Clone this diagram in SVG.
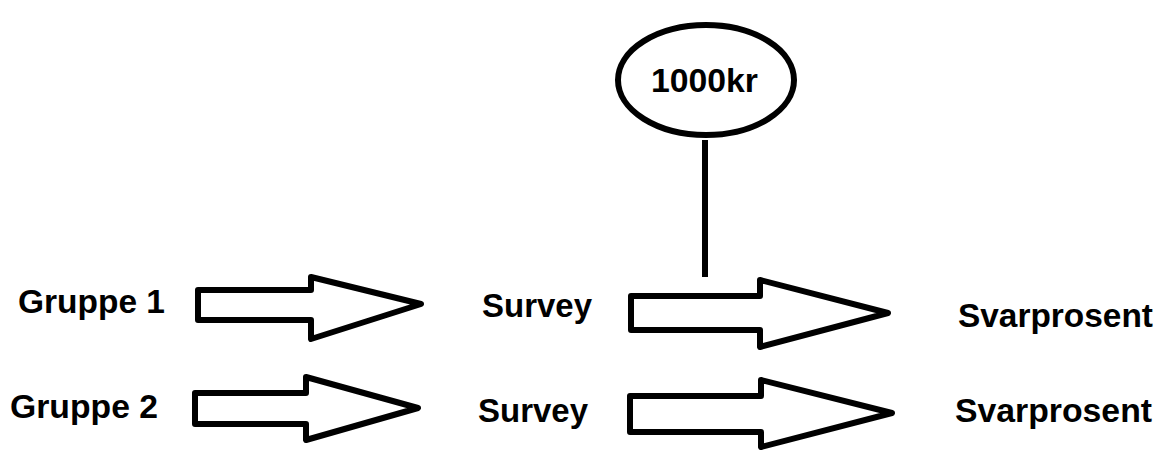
<svg xmlns="http://www.w3.org/2000/svg" width="1168" height="450" viewBox="0 0 1168 450">
  <style>
    .shape { fill: #ffffff; stroke: #000000; stroke-width: 6; stroke-linejoin: round; }
    .label { font-family: "Liberation Sans", Arial, sans-serif; font-weight: bold; font-size: 33px; fill: #000000; }
    .link { stroke: #000000; stroke-width: 6; fill: none; }
  </style>
  <rect width="1168" height="450" fill="#ffffff"/>

  <!-- connector from the prize bubble down to the upper survey arrow -->
  <g id="connectors">
    <line class="link" x1="705" y1="140" x2="705" y2="277"/>
  </g>

  <g id="prize">
    <ellipse class="shape" cx="706" cy="80" rx="88" ry="55"/>
    <text class="label" x="651" y="92" textLength="107" lengthAdjust="spacingAndGlyphs">1000kr</text>
  </g>

  <g id="group1">
    <text class="label" x="18" y="313" textLength="147" lengthAdjust="spacingAndGlyphs">Gruppe 1</text>
  </g>
  <g id="group2">
    <text class="label" x="10" y="418" textLength="148" lengthAdjust="spacingAndGlyphs">Gruppe 2</text>
  </g>

  <g id="arrow1">
    <polygon class="shape" points="198,290 311,290 311,277 421,304 311,339 311,320 198,320"/>
  </g>
  <g id="arrow2">
    <polygon class="shape" points="631,296 760,296 760,280 888,313 760,347 760,330 631,330"/>
  </g>
  <g id="arrow3">
    <polygon class="shape" points="195,393 306,393 306,377 418,408 306,440 306,424 195,424"/>
  </g>
  <g id="arrow4">
    <polygon class="shape" points="630,396 761,396 761,380 892,413 761,447 761,432 630,432"/>
  </g>

  <g id="survey1">
    <text class="label" x="482" y="317" textLength="110" lengthAdjust="spacingAndGlyphs">Survey</text>
  </g>
  <g id="survey2">
    <text class="label" x="478" y="422" textLength="110" lengthAdjust="spacingAndGlyphs">Survey</text>
  </g>

  <g id="result1">
    <text class="label" x="958" y="327" textLength="195" lengthAdjust="spacingAndGlyphs">Svarprosent</text>
  </g>
  <g id="result2">
    <text class="label" x="955" y="422" textLength="197" lengthAdjust="spacingAndGlyphs">Svarprosent</text>
  </g>
</svg>
